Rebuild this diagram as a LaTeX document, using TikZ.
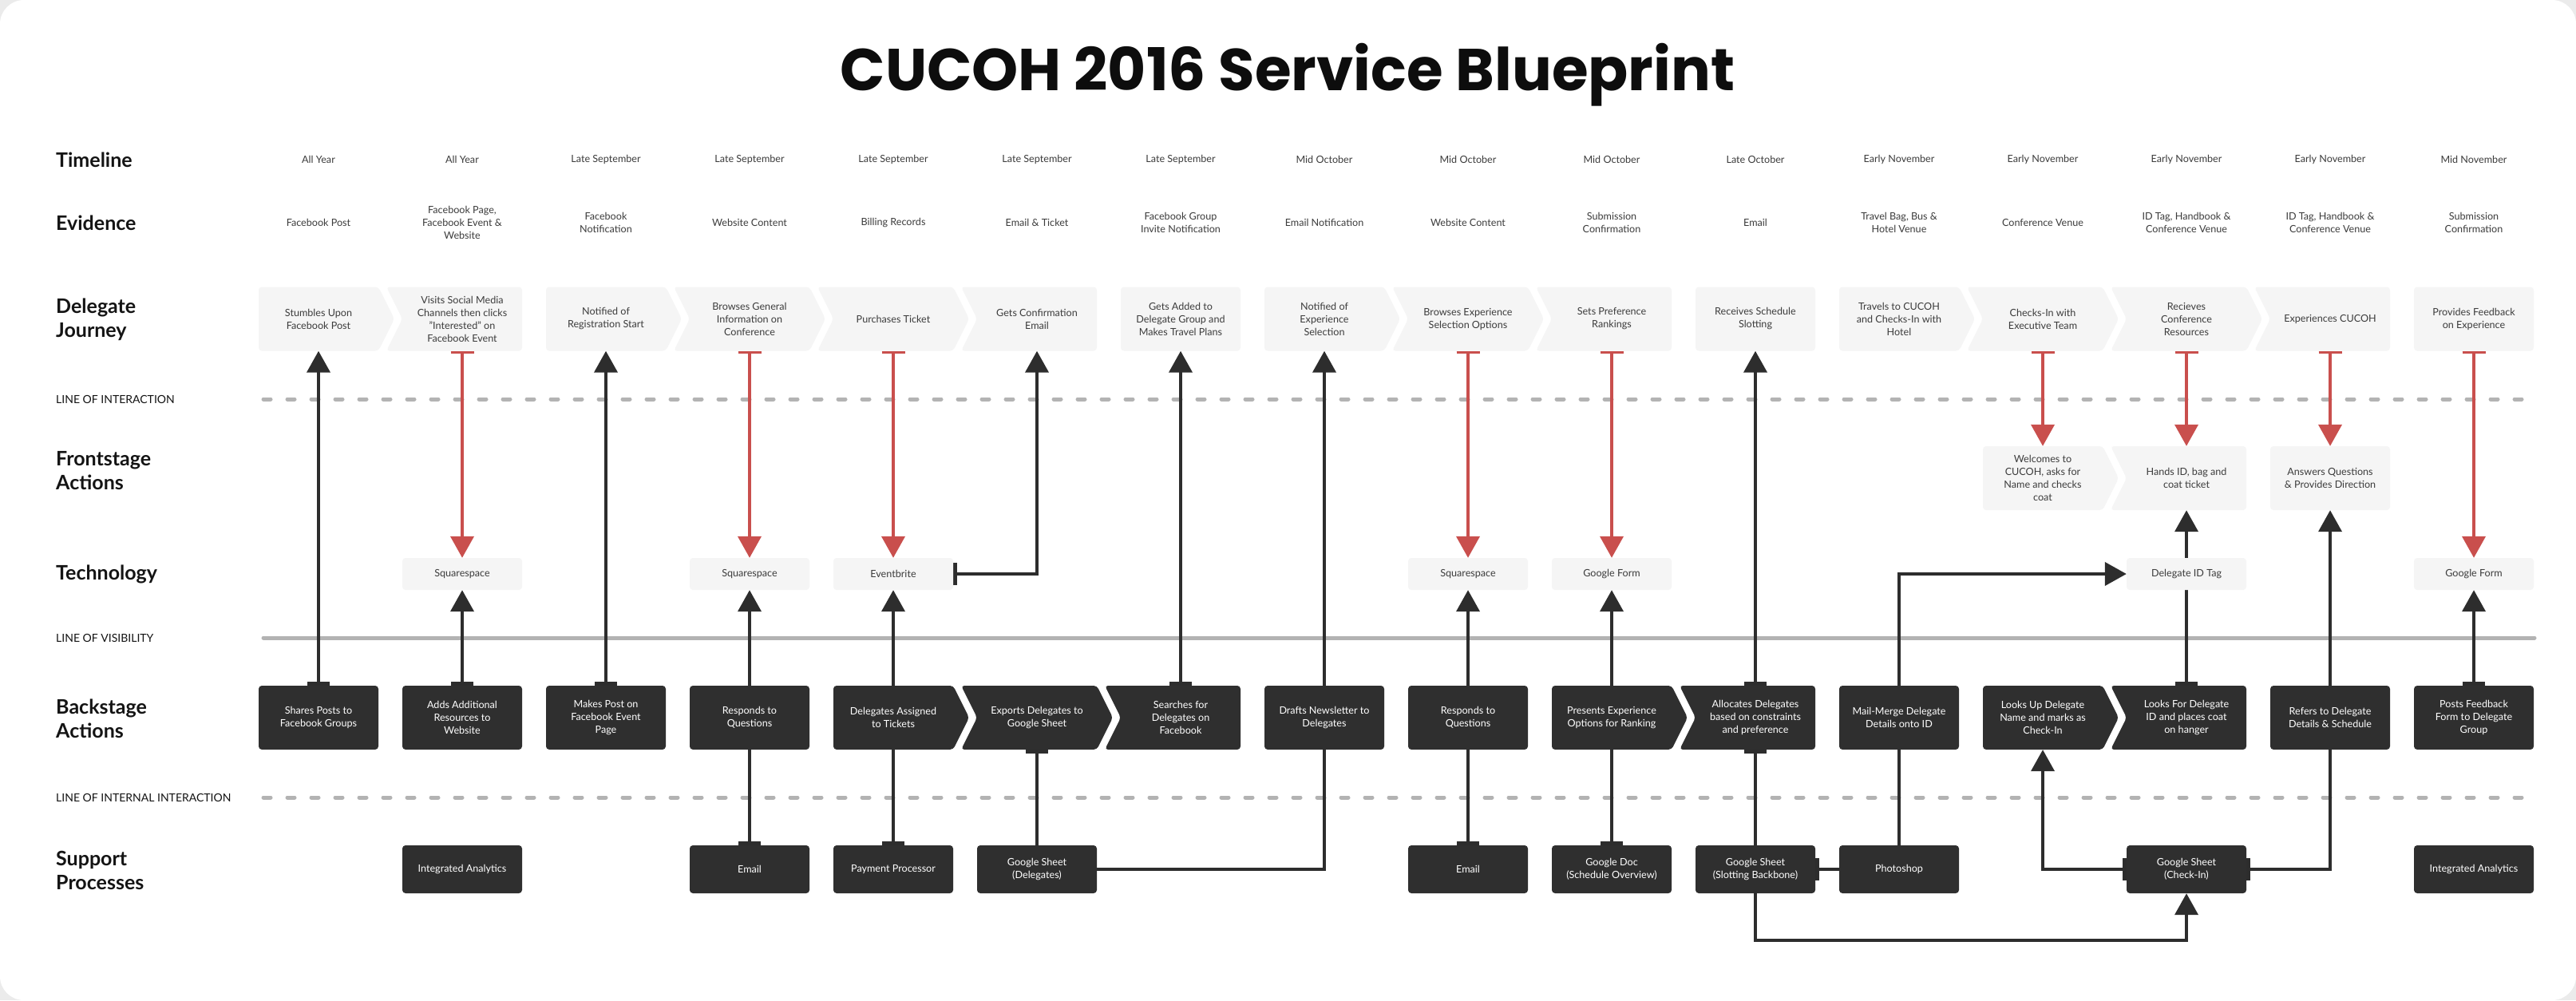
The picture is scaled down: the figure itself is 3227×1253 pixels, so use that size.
\documentclass[tikz,border=0pt]{standalone}
\usepackage{fontspec}
\setmainfont{Lato}
\newfontfamily\titlefont{Poppins}
\usetikzlibrary{arrows.meta}
\definecolor{lightfill}{HTML}{F5F5F5}
\definecolor{darkfill}{HTML}{2F2F2F}
\definecolor{txtgray}{HTML}{3C3C3C}
\definecolor{arrred}{HTML}{C94F4D}
\definecolor{arrblk}{HTML}{2D2D2D}
\definecolor{divgray}{HTML}{B3B3B3}
\definecolor{cardout}{HTML}{EBEBEB}
\pgfdeclarelayer{bg}\pgfdeclarelayer{conn}\pgfsetlayers{bg,conn,main}
\newcommand\bodyfs{\fontsize{12.6pt}{16pt}\selectfont}
\tikzset{
 lighttxt/.style={font=\bodyfs, text=txtgray, align=center, inner sep=0pt, minimum width=150pt},
 darktxt/.style={font=\bodyfs, text=white, align=center, inner sep=0pt, minimum width=150pt},
 plaintxt/.style={font=\bodyfs, text=txtgray, align=center, inner sep=0pt},
 rowlabel/.style={font=\fontsize{25pt}{30pt}\selectfont\bfseries, text=black!92, align=left, anchor=west, inner sep=0pt},
 linelabel/.style={font=\fontsize{14pt}{16pt}\selectfont, text=black!92, anchor=west, inner sep=0pt},
 redarr/.style={draw=arrred, line width=4pt, arrows={Bar[width=29pt,line width=3pt]-Triangle[length=27pt,width=29pt]}},
 tabarr/.style={draw=arrblk, line width=4pt, arrows={Bar[width=28pt,line width=5pt]-Triangle[length=27pt,width=29pt]}},
 plainarr/.style={draw=arrblk, line width=4pt, arrows={-Triangle[length=27pt,width=29pt]}},
 tabline/.style={draw=arrblk, line width=4pt, arrows={Bar[width=28pt,line width=5pt]-}},
 divdash/.style={draw=divgray, line width=5pt, line cap=round, dash pattern=on 9pt off 21pt},
 divsolid/.style={draw=divgray, line width=5pt, line cap=round},
}
% #1 name, #2 x, #3 y, #4 half height, #5 left notch, #6 right chevron, #7 light/dark, #8 text
\newcommand\blk[8]{%
 \fill[#7fill, rounded corners=4pt] ({#2-75-20*#5},{#3-#4}) -- ({#2+75},{#3-#4}) -- ({#2+75+20*#6},{#3}) -- ({#2+75},{#3+#4}) -- ({#2-75-20*#5},{#3+#4}) -- ({#2-75},{#3}) -- cycle;
 \node[#7txt, minimum height={2*#4}] (#1) at (#2,#3) {#8};}
\begin{document}
\begin{tikzpicture}[x=1pt,y=-1pt]
\useasboundingbox (0,0) rectangle (3227,1253);
\begin{pgfonlayer}{bg}
\fill[cardout] (0,0) rectangle (3227,1253);
\fill[white, rounded corners=30pt] (0,0) rectangle (3227,1253);
\end{pgfonlayer}

\node[font=\titlefont\fontsize{74pt}{80pt}\selectfont\bfseries, text=black!95, anchor=base] (title) at (1613,113) {CUCOH 2016 Service Blueprint};

% row labels
\node[rowlabel] (lbTime) at (70,200) {Timeline};
\node[rowlabel] (lbEvid) at (70,279) {Evidence};
\node[rowlabel] (lbJour) at (70,400) {Delegate\\Journey};
\node[linelabel] (lbLoi) at (70,500) {LINE OF INTERACTION};
\node[rowlabel] (lbFront) at (70,590) {Frontstage\\Actions};
\node[rowlabel] (lbTech) at (70,719) {Technology};
\node[linelabel] (lbLov) at (70,799) {LINE OF VISIBILITY};
\node[rowlabel] (lbBack) at (70,900) {Backstage\\Actions};
\node[linelabel] (lbLoii) at (70,999) {LINE OF INTERNAL INTERACTION};
\node[rowlabel] (lbSupp) at (70,1090) {Support\\Processes};

% divider lines
\begin{pgfonlayer}{bg}
\draw[divdash] (330,500) -- (3162,500);
\draw[divsolid] (330,799) -- (3175,799);
\draw[divdash] (330,999) -- (3162,999);
\end{pgfonlayer}

% timeline
\node[plaintxt] (t1) at (399,200) {All Year};
\node[plaintxt] (t2) at (579,200) {All Year};
\node[plaintxt] (t3) at (759,200) {Late September};
\node[plaintxt] (t4) at (939,200) {Late September};
\node[plaintxt] (t5) at (1119,200) {Late September};
\node[plaintxt] (t6) at (1299,200) {Late September};
\node[plaintxt] (t7) at (1479,200) {Late September};
\node[plaintxt] (t8) at (1659,200) {Mid October};
\node[plaintxt] (t9) at (1839,200) {Mid October};
\node[plaintxt] (t10) at (2019,200) {Mid October};
\node[plaintxt] (t11) at (2199,200) {Late October};
\node[plaintxt] (t12) at (2379,200) {Early November};
\node[plaintxt] (t13) at (2559,200) {Early November};
\node[plaintxt] (t14) at (2739,200) {Early November};
\node[plaintxt] (t15) at (2919,200) {Early November};
\node[plaintxt] (t16) at (3099,200) {Mid November};

% evidence
\node[plaintxt] (e1) at (399,279) {Facebook Post};
\node[plaintxt] (e2) at (579,279) {Facebook Page,\\Facebook Event \&\\Website};
\node[plaintxt] (e3) at (759,279) {Facebook\\Notification};
\node[plaintxt] (e4) at (939,279) {Website Content};
\node[plaintxt] (e5) at (1119,279) {Billing Records};
\node[plaintxt] (e6) at (1299,279) {Email \& Ticket};
\node[plaintxt] (e7) at (1479,279) {Facebook Group\\Invite Notification};
\node[plaintxt] (e8) at (1659,279) {Email Notification};
\node[plaintxt] (e9) at (1839,279) {Website Content};
\node[plaintxt] (e10) at (2019,279) {Submission\\Confirmation};
\node[plaintxt] (e11) at (2199,279) {Email};
\node[plaintxt] (e12) at (2379,279) {Travel Bag, Bus \&\\Hotel Venue};
\node[plaintxt] (e13) at (2559,279) {Conference Venue};
\node[plaintxt] (e14) at (2739,279) {ID Tag, Handbook \&\\Conference Venue};
\node[plaintxt] (e15) at (2919,279) {ID Tag, Handbook \&\\Conference Venue};
\node[plaintxt] (e16) at (3099,279) {Submission\\Confirmation};

% delegate journey
\blk{jr1}{399}{399.5}{40}{0}{1}{light}{Stumbles Upon\\Facebook Post}
\blk{jr2}{579}{399.5}{40}{1}{0}{light}{Visits Social Media\\Channels then clicks\\"Interested" on\\Facebook Event}
\blk{jr3}{759}{399.5}{40}{0}{1}{light}{Notified of\\Registration Start}
\blk{jr4}{939}{399.5}{40}{1}{1}{light}{Browses General\\Information on\\Conference}
\blk{jr5}{1119}{399.5}{40}{1}{1}{light}{Purchases Ticket}
\blk{jr6}{1299}{399.5}{40}{1}{0}{light}{Gets Confirmation\\Email}
\blk{jr7}{1479}{399.5}{40}{0}{0}{light}{Gets Added to\\Delegate Group and\\Makes Travel Plans}
\blk{jr8}{1659}{399.5}{40}{0}{1}{light}{Notified of\\Experience\\Selection}
\blk{jr9}{1839}{399.5}{40}{1}{1}{light}{Browses Experience\\Selection Options}
\blk{jr10}{2019}{399.5}{40}{1}{0}{light}{Sets Preference\\Rankings}
\blk{jr11}{2199}{399.5}{40}{0}{0}{light}{Receives Schedule\\Slotting}
\blk{jr12}{2379}{399.5}{40}{0}{1}{light}{Travels to CUCOH\\and Checks-In with\\Hotel}
\blk{jr13}{2559}{399.5}{40}{1}{1}{light}{Checks-In with\\Executive Team}
\blk{jr14}{2739}{399.5}{40}{1}{1}{light}{Recieves\\Conference\\Resources}
\blk{jr15}{2919}{399.5}{40}{1}{0}{light}{Experiences CUCOH}
\blk{jr16}{3099}{399.5}{40}{0}{0}{light}{Provides Feedback\\on Experience}

% frontstage
\blk{fs13}{2559}{599}{40}{0}{1}{light}{Welcomes to\\CUCOH, asks for\\Name and checks\\coat}
\blk{fs14}{2739}{599}{40}{1}{0}{light}{Hands ID, bag and\\coat ticket}
\blk{fs15}{2919}{599}{40}{0}{0}{light}{Answers Questions\\\& Provides Direction}

% technology
\blk{tc2}{579}{719}{20}{0}{0}{light}{Squarespace}
\blk{tc4}{939}{719}{20}{0}{0}{light}{Squarespace}
\blk{tc5}{1119}{719}{20}{0}{0}{light}{Eventbrite}
\blk{tc9}{1839}{719}{20}{0}{0}{light}{Squarespace}
\blk{tc10}{2019}{719}{20}{0}{0}{light}{Google Form}
\blk{tc14}{2739}{719}{20}{0}{0}{light}{Delegate ID Tag}
\blk{tc16}{3099}{719}{20}{0}{0}{light}{Google Form}

% backstage
\blk{bs1}{399}{899}{40}{0}{0}{dark}{Shares Posts to\\Facebook Groups}
\blk{bs2}{579}{899}{40}{0}{0}{dark}{Adds Additional\\Resources to\\Website}
\blk{bs3}{759}{899}{40}{0}{0}{dark}{Makes Post on\\Facebook Event\\Page}
\blk{bs4}{939}{899}{40}{0}{0}{dark}{Responds to\\Questions}
\blk{bs5}{1119}{899}{40}{0}{1}{dark}{Delegates Assigned\\to Tickets}
\blk{bs6}{1299}{899}{40}{1}{1}{dark}{Exports Delegates to\\Google Sheet}
\blk{bs7}{1479}{899}{40}{1}{0}{dark}{Searches for\\Delegates on\\Facebook}
\blk{bs8}{1659}{899}{40}{0}{0}{dark}{Drafts Newsletter to\\Delegates}
\blk{bs9}{1839}{899}{40}{0}{0}{dark}{Responds to\\Questions}
\blk{bs10}{2019}{899}{40}{0}{1}{dark}{Presents Experience\\Options for Ranking}
\blk{bs11}{2199}{899}{40}{1}{0}{dark}{Allocates Delegates\\based on constraints\\and preference}
\blk{bs12}{2379}{899}{40}{0}{0}{dark}{Mail-Merge Delegate\\Details onto ID}
\blk{bs13}{2559}{899}{40}{0}{1}{dark}{Looks Up Delegate\\Name and marks as\\Check-In}
\blk{bs14}{2739}{899}{40}{1}{0}{dark}{Looks For Delegate\\ID and places coat\\on hanger}
\blk{bs15}{2919}{899}{40}{0}{0}{dark}{Refers to Delegate\\Details \& Schedule}
\blk{bs16}{3099}{899}{40}{0}{0}{dark}{Posts Feedback\\Form to Delegate\\Group}

% support
\blk{sp2}{579}{1089}{30}{0}{0}{dark}{Integrated Analytics}
\blk{sp4}{939}{1089}{30}{0}{0}{dark}{Email}
\blk{sp5}{1119}{1089}{30}{0}{0}{dark}{Payment Processor}
\blk{sp6}{1299}{1089}{30}{0}{0}{dark}{Google Sheet\\(Delegates)}
\blk{sp9}{1839}{1089}{30}{0}{0}{dark}{Email}
\blk{sp10}{2019}{1089}{30}{0}{0}{dark}{Google Doc\\(Schedule Overview)}
\blk{sp11}{2199}{1089}{30}{0}{0}{dark}{Google Sheet\\(Slotting Backbone)}
\blk{sp12}{2379}{1089}{30}{0}{0}{dark}{Photoshop}
\blk{sp14}{2739}{1089}{30}{0}{0}{dark}{Google Sheet\\(Check-In)}
\blk{sp16}{3099}{1089}{30}{0}{0}{dark}{Integrated Analytics}

\coordinate (slotbend) at (2199,1178);

% connectors
\begin{pgfonlayer}{conn}
\draw[tabarr] (bs1.north) -- (jr1.south);
\draw[redarr] (jr2.south) -- (tc2.north);
\draw[tabarr] (bs2.north) -- (tc2.south);
\draw[tabarr] (bs3.north) -- (jr3.south);
\draw[redarr] (jr4.south) -- (tc4.north);
\draw[tabarr] (sp4.north) -- (tc4.south);
\draw[redarr] (jr5.south) -- (tc5.north);
\draw[tabarr] (sp5.north) -- (tc5.south);
\draw[tabarr] (tc5.east) -| (jr6.south);
\draw[tabline] (bs6.south) -- (sp6.north);
\draw[tabarr] (bs7.north) -- (jr7.south);
\draw[plainarr] (sp6.east) -| (jr8.south);
\draw[redarr] (jr9.south) -- (tc9.north);
\draw[tabarr] (sp9.north) -- (tc9.south);
\draw[redarr] (jr10.south) -- (tc10.north);
\draw[tabarr] (sp10.north) -- (tc10.south);
\draw[tabarr] (bs11.north) -- (jr11.south);
\draw[tabline] (bs11.south) -- (sp11.north);
\draw[plainarr] (sp11.south) -- (slotbend) -| (sp14.south);
\draw[tabline] (sp11.east) -- (sp12.west);
\draw[plainarr] (sp12.north) |- (tc14.west);
\draw[redarr] (jr13.south) -- (fs13.north);
\draw[tabarr] (sp14.west) -| (bs13.south);
\draw[redarr] (jr14.south) -- (fs14.north);
\draw[tabarr] (bs14.north) -- (fs14.south);
\draw[redarr] (jr15.south) -- (fs15.north);
\draw[tabarr] (sp14.east) -| (fs15.south);
\draw[redarr] (jr16.south) -- (tc16.north);
\draw[tabarr] (bs16.north) -- (tc16.south);
\end{pgfonlayer}
\end{tikzpicture}
\end{document}
